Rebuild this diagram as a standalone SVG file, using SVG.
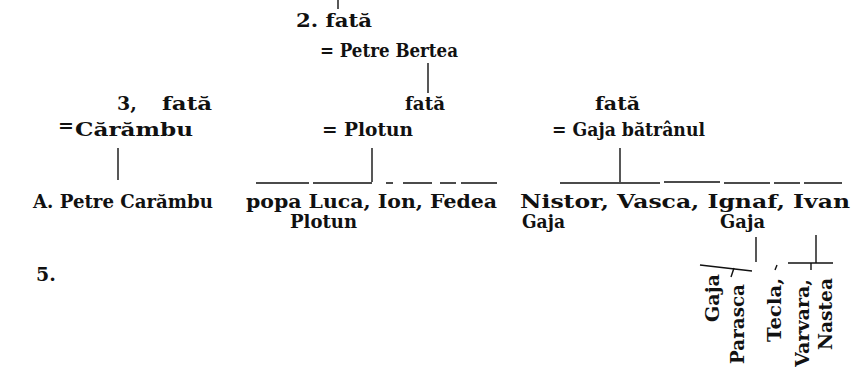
<svg xmlns="http://www.w3.org/2000/svg" width="853" height="373" viewBox="0 0 853 373">
<style>
text{font-family:"DejaVu Serif","Liberation Serif",serif;font-weight:bold;font-size:19px;fill:#111}
.ln{stroke:#111;stroke-width:1.4;fill:none}
</style>
<rect width="853" height="373" fill="#fff"/>
<g id="connectors">
<path class="ln" d="M338,0V9"/>
<path class="ln" d="M428,63V93"/>
<path class="ln" d="M118,148V180"/>
<path class="ln" d="M372,148V182"/>
<path class="ln" d="M256,183H309M313,183H372M386,183H393M403,183H432M440,183H456M461,183H497"/>
<path class="ln" d="M620,148V182"/>
<path class="ln" d="M560,183H660M664,182H720M724,183H770M774,183H800M804,183H842"/>
<path class="ln" d="M756,237V262"/>
<path class="ln" d="M700,265L752,271"/>
<path class="ln" d="M734,268L731,277"/>
<path class="ln" d="M816,235V263"/>
<path class="ln" d="M788,263H833"/>
<path class="ln" d="M777,265L775,270"/>
<path class="ln" d="M811,263V270"/>
</g>
<g id="gen2">
<text x="296" y="27" textLength="76" lengthAdjust="spacingAndGlyphs">2. fată</text>
<text x="320" y="57" textLength="138" lengthAdjust="spacingAndGlyphs">= Petre Bertea</text>
</g>
<g id="gen3-caramb">
<text x="117" y="110">3,</text>
<text x="162" y="110" textLength="50" lengthAdjust="spacingAndGlyphs">fată</text>
<text x="58" y="132" font-size="10">=</text>
<text x="75" y="136" textLength="118" lengthAdjust="spacingAndGlyphs">Cărămbu</text>
</g>
<g id="gen3-plotun">
<text x="405" y="110" textLength="40" lengthAdjust="spacingAndGlyphs">fată</text>
<text x="322" y="136" textLength="91" lengthAdjust="spacingAndGlyphs">= Plotun</text>
</g>
<g id="gen3-gaja">
<text x="595" y="110" textLength="45" lengthAdjust="spacingAndGlyphs">fată</text>
<text x="552" y="136" textLength="153" lengthAdjust="spacingAndGlyphs">= Gaja bătrânul</text>
</g>
<g id="gen4-caramb">
<text x="33" y="208" textLength="180" lengthAdjust="spacingAndGlyphs">A. Petre Carămbu</text>
</g>
<g id="gen4-plotun">
<text x="246" y="208" textLength="251" lengthAdjust="spacingAndGlyphs">popa Luca, Ion, Fedea</text>
<text x="290" y="228" textLength="67" lengthAdjust="spacingAndGlyphs">Plotun</text>
</g>
<g id="gen4-gaja">
<text x="520" y="208" textLength="330" lengthAdjust="spacingAndGlyphs">Nistor, Vasca, Ignaf, Ivan</text>
<text x="522" y="228" textLength="43" lengthAdjust="spacingAndGlyphs">Gaja</text>
<text x="720" y="228" textLength="45" lengthAdjust="spacingAndGlyphs">Gaja</text>
</g>
<g id="gen5">
<text x="36" y="281">5.</text>
<text transform="translate(719,322) rotate(-90)" textLength="48" lengthAdjust="spacingAndGlyphs">Gaja</text>
<text transform="translate(744,364) rotate(-90)" textLength="80" lengthAdjust="spacingAndGlyphs">Parasca</text>
<text transform="translate(781,342) rotate(-90)" textLength="64" lengthAdjust="spacingAndGlyphs">Tecla,</text>
<text transform="translate(809,367) rotate(-90)" textLength="88" lengthAdjust="spacingAndGlyphs">Varvara,</text>
<text transform="translate(832,350) rotate(-90)" textLength="72" lengthAdjust="spacingAndGlyphs">Nastea</text>
</g>
</svg>
